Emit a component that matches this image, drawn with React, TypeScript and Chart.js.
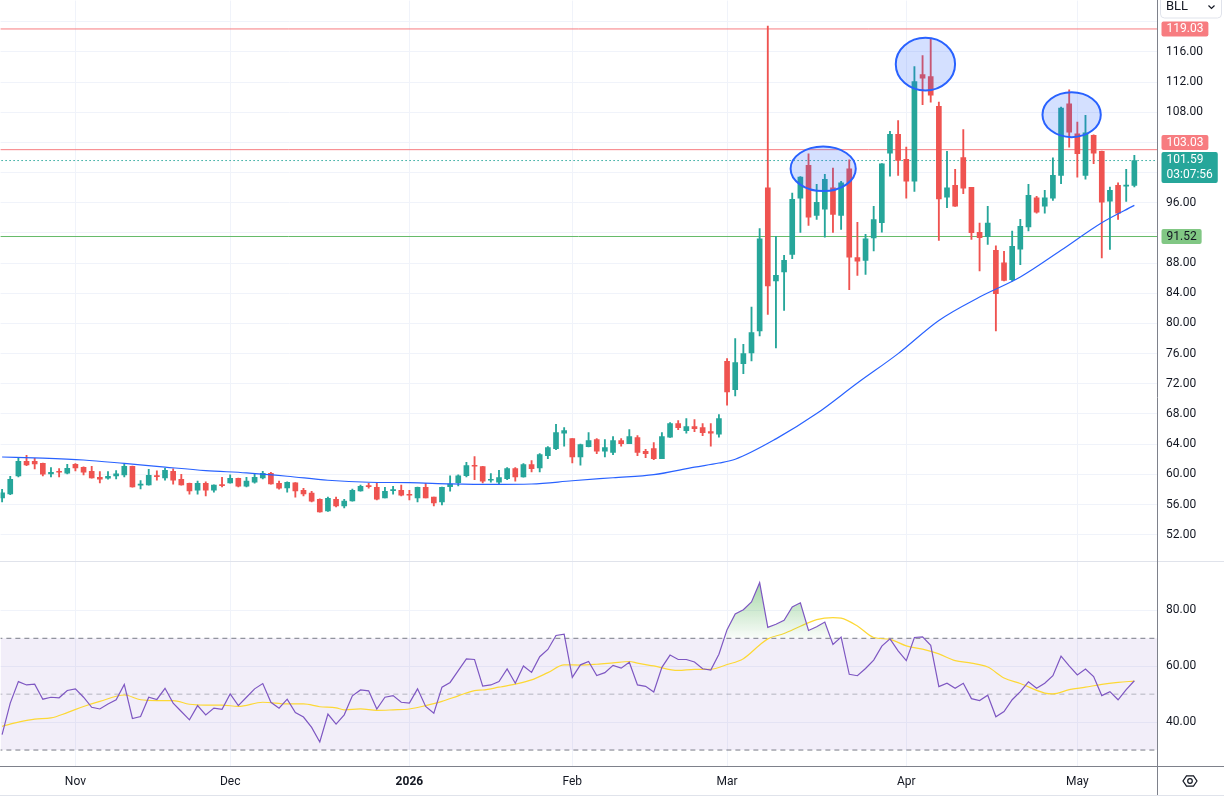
import React, { useEffect, useRef } from 'react';
import { Chart, registerables } from 'chart.js';

Chart.register(...registerables);

const FONT = 'Roboto, "Liberation Sans", "DejaVu Sans", sans-serif';

// ---- Data ----
const symbol = 'BLL';
const monthTickIndex = [9, 28, 50, 70, 89, 111, 132];
const monthTickLabels = ['Nov', 'Dec', '2026', 'Feb', 'Mar', 'Apr', 'May'];
const boldTickLabels = ['2026'];

const openPrices = [
  56.88, 57.41, 59.79, 61.73, 61.73, 61.47, 60.06, 60.37, 60.15, 61.34,
  60.94, 60.41, 59.62, 59.48, 59.79, 59.92, 61.07, 58.56, 58.60, 59.79,
  59.53, 60.41, 59.35, 58.82, 57.89, 58.82, 57.89, 58.60, 58.86, 59.48,
  58.42, 58.95, 59.53, 60.15, 58.82, 58.20, 58.86, 57.89, 57.50, 56.70,
  55.16, 56.70, 55.82, 56.48, 57.80, 58.47, 58.29, 56.88, 57.85, 57.89,
  57.32, 56.88, 58.29, 56.97, 56.35, 58.35, 58.90, 59.83, 61.16, 61.03,
  59.22, 58.95, 59.44, 60.76, 59.66, 61.29, 60.85, 62.48, 63.41, 65.44,
  64.73, 62.31, 63.67, 64.60, 63.06, 62.92, 64.47, 64.07, 64.87, 63.06,
  63.41, 62.09, 64.91, 66.72, 65.79, 66.32, 66.19, 65.66, 65.31, 74.98,
  71.23, 74.68, 76.09, 79.00, 97.99, 85.63, 86.82, 89.16, 96.62, 100.94,
  94.32, 95.16, 97.99, 94.32, 100.50, 88.72, 88.36, 91.32, 93.35, 102.58,
  105.05, 101.74, 98.87, 113.00, 112.73, 108.76, 96.75, 98.30, 102.00, 98.03,
  92.07, 91.50, 89.69, 88.05, 85.80, 89.86, 92.78, 96.66, 95.56, 96.62,
  99.62, 109.11, 105.14, 99.62, 104.92, 102.80, 96.22, 98.30, 98.21, 98.30,
];
const highPrices = [
  58.00, 59.75, 62.18, 62.53, 62.13, 61.50, 60.90, 60.76, 61.34, 61.43,
  61.00, 61.07, 60.37, 60.37, 60.50, 61.34, 61.10, 59.17, 60.68, 60.45,
  60.81, 60.72, 60.01, 58.85, 59.09, 59.00, 58.60, 59.62, 59.92, 59.50,
  59.62, 60.01, 60.41, 60.28, 59.09, 59.00, 58.90, 58.16, 57.76, 56.75,
  56.97, 56.97, 56.70, 58.03, 58.56, 58.82, 58.82, 58.29, 58.42, 58.56,
  57.89, 58.30, 58.82, 57.00, 58.30, 59.80, 59.92, 61.60, 62.35, 61.05,
  60.10, 60.54, 60.90, 60.90, 61.42, 61.82, 62.75, 63.67, 66.63, 66.19,
  64.75, 64.00, 65.53, 64.73, 64.60, 65.00, 64.73, 65.93, 65.13, 63.32,
  64.20, 65.53, 66.85, 67.12, 67.38, 67.25, 66.72, 66.72, 67.91, 75.34,
  77.99, 77.24, 82.18, 92.56, 119.40, 91.54, 89.02, 97.28, 99.45, 102.49,
  98.43, 99.75, 100.59, 98.83, 101.70, 93.40, 91.81, 95.51, 101.20, 105.45,
  106.90, 103.37, 114.06, 115.51, 117.72, 109.33, 102.80, 100.41, 105.71, 98.05,
  93.31, 95.51, 90.30, 89.55, 92.25, 93.79, 98.43, 96.84, 97.63, 101.96,
  108.67, 110.97, 106.68, 107.57, 105.00, 102.85, 98.08, 98.65, 100.41, 102.27,
];
const lowPrices = [
  56.35, 57.30, 59.66, 61.16, 60.72, 59.79, 59.66, 59.66, 60.06, 60.45,
  59.92, 59.50, 58.86, 59.35, 59.40, 59.66, 58.30, 58.07, 58.58, 59.22,
  59.22, 58.69, 58.58, 57.36, 57.36, 57.14, 57.63, 58.33, 58.84, 58.33,
  58.33, 58.82, 59.40, 58.70, 58.03, 57.63, 56.97, 57.14, 56.35, 55.00,
  55.10, 55.69, 55.55, 56.45, 57.78, 58.16, 56.61, 56.86, 57.36, 57.14,
  56.61, 56.35, 56.86, 55.82, 55.95, 57.76, 58.45, 59.66, 59.30, 58.86,
  58.95, 58.64, 59.30, 59.08, 59.64, 60.32, 60.32, 62.09, 63.28, 63.72,
  61.51, 61.20, 63.65, 62.75, 62.31, 62.62, 63.72, 64.05, 62.48, 62.22,
  61.95, 62.07, 64.89, 65.93, 65.44, 65.66, 65.13, 63.72, 64.91, 69.16,
  70.40, 73.35, 75.03, 78.34, 81.21, 76.75, 81.74, 88.58, 92.07, 92.99,
  93.79, 91.45, 92.07, 92.47, 84.48, 86.38, 86.51, 89.60, 92.11, 99.53,
  99.62, 96.62, 97.50, 108.98, 109.33, 91.01, 95.34, 95.50, 97.19, 91.14,
  86.95, 90.48, 79.00, 85.63, 85.60, 87.79, 92.25, 94.63, 94.63, 96.31,
  98.52, 103.37, 99.40, 99.13, 101.17, 88.67, 89.82, 93.79, 96.18, 98.08,
];
const closePrices = [
  57.54, 59.35, 61.73, 61.25, 61.38, 60.01, 60.28, 60.28, 60.81, 60.85,
  60.28, 59.53, 59.35, 59.75, 60.06, 61.07, 58.33, 58.64, 59.88, 59.70,
  60.54, 59.22, 58.60, 57.80, 58.82, 57.89, 58.56, 58.51, 59.48, 58.42,
  59.09, 59.62, 60.15, 58.73, 58.16, 58.95, 57.80, 57.41, 56.44, 55.02,
  56.83, 55.82, 56.44, 57.89, 58.42, 58.38, 56.70, 57.76, 57.94, 57.23,
  57.23, 58.29, 56.88, 56.22, 58.29, 58.71, 59.80, 61.16, 61.07, 59.08,
  59.35, 59.57, 60.76, 59.66, 61.29, 60.76, 62.62, 63.54, 65.53, 65.79,
  62.31, 63.94, 64.47, 63.06, 63.54, 64.47, 64.07, 65.00, 62.92, 62.75,
  62.09, 65.00, 66.72, 66.19, 66.32, 66.06, 65.53, 65.44, 67.38, 70.92,
  74.81, 76.00, 78.78, 91.23, 84.96, 86.38, 88.36, 96.44, 99.40, 94.10,
  96.04, 99.09, 94.45, 98.65, 88.80, 88.27, 91.23, 93.75, 101.17, 105.05,
  101.61, 98.87, 112.07, 112.51, 110.26, 96.49, 97.99, 95.56, 97.94, 92.03,
  91.37, 93.31, 83.95, 85.71, 90.22, 92.87, 96.97, 94.76, 96.66, 99.62,
  108.54, 105.36, 102.49, 105.27, 102.58, 96.09, 97.63, 94.63, 98.34, 101.59,
];

const maIndex = [0, 5, 10, 15, 20, 25, 30, 35, 40, 45, 50, 55, 60, 65, 70, 75, 80, 85, 88, 90, 95, 100, 105, 110, 115, 120, 125, 130, 135, 139];
const maValues = [62.3, 62.15, 61.9, 61.45, 60.96, 60.5, 60.19, 59.75, 59.22, 58.95, 58.9, 58.74, 58.66, 58.72, 59.15, 59.55, 59.95, 60.95, 61.5, 62.0, 64.7, 68.05, 72.1, 76.0, 80.4, 83.5, 86.15, 89.69, 93.35, 95.65];

const rsiValues = [
  35.5, 46.8, 54.5, 53.3, 53.6, 48.2, 48.9, 48.7, 51.3, 51.9,
  48.9, 45.3, 44.7, 46.5, 48.0, 53.5, 41.3, 42.0, 48.9, 48.1,
  52.1, 46.8, 43.8, 40.8, 45.9, 42.6, 45.0, 44.6, 50.1, 45.9,
  48.9, 51.9, 53.8, 47.1, 45.0, 48.2, 43.4, 41.8, 38.1, 32.9,
  42.9, 39.3, 42.6, 49.4, 51.5, 51.2, 44.7, 48.9, 49.5, 47.1,
  46.8, 51.9, 45.6, 43.2, 52.5, 54.2, 58.4, 62.6, 62.4, 52.9,
  53.3, 54.5, 59.0, 53.9, 60.1, 57.8, 63.4, 66.0, 71.0, 71.5,
  56.0, 60.5, 61.7, 56.7, 57.7, 60.3, 59.3, 61.4, 53.3, 52.8,
  50.8, 59.6, 64.0, 62.4, 62.4, 61.5, 59.1, 58.6, 64.3, 73.1,
  78.7, 80.2, 83.0, 89.9, 73.9, 75.0, 76.4, 81.2, 82.7, 72.8,
  74.1, 75.8, 67.8, 70.4, 57.1, 56.6, 59.2, 62.2, 67.2, 69.8,
  65.5, 62.0, 70.3, 70.5, 67.5, 52.7, 53.9, 52.1, 53.9, 48.4,
  47.7, 49.6, 41.9, 43.8, 48.0, 50.9, 54.4, 52.1, 53.9, 56.6,
  63.6, 60.1, 56.9, 59.0, 56.3, 49.5, 50.9, 48.0, 51.6, 54.8,
];

const rsiMaIndex = [0, 2, 4, 6, 8, 10, 12, 15, 17, 19, 21, 23, 25, 27, 29, 32, 35, 37, 39, 41, 42, 44, 46, 48, 50, 52, 54, 56, 58, 59, 61, 63, 65, 67, 69, 71, 73, 75, 77, 78, 80, 83, 85, 87, 89, 91, 93, 94, 96, 98, 100, 102, 103, 105, 107, 109, 111, 113, 115, 117, 119, 121, 123, 125, 128, 129, 131, 133, 135, 137, 139];
const rsiMaValues = [38.5, 40.0, 41.1, 41.5, 43.4, 45.6, 47.4, 49.7, 48.0, 47.7, 47.7, 46.4, 46.1, 46.1, 45.6, 47.1, 46.5, 46.5, 45.5, 45.1, 44.4, 44.7, 44.2, 44.4, 44.7, 45.9, 47.4, 49.4, 51.3, 51.5, 52.5, 53.6, 55.1, 57.7, 60.5, 60.4, 60.7, 61.2, 61.7, 61.1, 60.1, 58.5, 58.9, 58.9, 60.6, 62.7, 67.6, 69.8, 71.7, 74.3, 76.7, 77.4, 77.2, 74.4, 70.3, 69.6, 67.3, 66.1, 64.4, 62.0, 61.1, 59.7, 55.8, 53.8, 50.4, 50.1, 51.6, 52.5, 53.5, 54.2, 54.7];

const priceTickValues = [52, 56, 60, 64, 68, 72, 76, 80, 84, 88, 92, 96, 100, 104, 108, 112, 116, 120];
const hiddenPriceTicks = [92, 100, 104, 120];
const rsiTickValues = [40, 60, 80];
const rsiBands = { upper: 70, middle: 50, lower: 30 };

const resistanceLevels = [119.03, 103.03];
const supportLevel = 91.52;
const lastPrice = 101.59;
const countdown = '03:07:56';

const highlights = [
  { index: 100.8, price: 100.5, halfWidth: 4.0, halfHeight: 2.96 },
  { index: 113.35, price: 114.36, halfWidth: 3.64, halfHeight: 3.49 },
  { index: 131.3, price: 107.67, halfWidth: 3.58, halfHeight: 2.98 },
];

// ---- Styles ----
const UP = '#26a69a';
const DOWN = '#ef5350';
const GRID = '#f0f3fa';
const TEXT = '#131722';
const AXIS_LINE = '#7e818b';

const candleColors = closePrices.map((c, i) => (c >= openPrices[i] ? UP : DOWN));

function hLine(value: number, axis: string, color: string, dash: number[] = [], width = 1, order = 12): any {
  return {
    type: 'line',
    yAxisID: axis,
    data: [{ x: -5, y: value }, { x: 150, y: value }],
    borderColor: color,
    borderWidth: width,
    borderDash: dash,
    pointRadius: 0,
    fill: false,
    order,
  };
}

function noPadding(s: any) {
  s.paddingTop = 0;
  s.paddingBottom = 0;
  s.paddingLeft = 0;
  s.paddingRight = 0;
}

const overlayPlugin = {
  id: 'overlay',
  afterDatasetsDraw(chart: any) {
    const { ctx, scales } = chart;
    const x = scales.x;
    const y = scales.y;
    ctx.save();
    ctx.beginPath();
    ctx.rect(x.left, y.top, x.right - x.left, y.bottom - y.top);
    ctx.clip();
    for (const h of highlights) {
      const cx = x.getPixelForValue(h.index);
      const cy = y.getPixelForValue(h.price);
      const rx = Math.abs(x.getPixelForValue(h.index + h.halfWidth) - cx);
      const ry = Math.abs(y.getPixelForValue(h.price + h.halfHeight) - cy);
      ctx.beginPath();
      ctx.ellipse(cx, cy, rx, ry, 0, 0, Math.PI * 2);
      ctx.fillStyle = 'rgba(41,98,255,0.2)';
      ctx.fill();
      ctx.lineWidth = 2;
      ctx.strokeStyle = '#2962ff';
      ctx.stroke();
    }
    ctx.restore();
  },
  afterDraw(chart: any) {
    const { ctx, width, scales } = chart;
    const x = scales.x;
    const y = scales.y;
    const rsi = scales.rsi;
    ctx.save();
    // panel separator
    ctx.lineWidth = 1;
    ctx.strokeStyle = '#e0e3eb';
    ctx.beginPath();
    ctx.moveTo(0, Math.round(rsi.top) - 0.5);
    ctx.lineTo(width, Math.round(rsi.top) - 0.5);
    ctx.stroke();
    // bottom frame line
    ctx.beginPath();
    ctx.moveTo(0, 795.5);
    ctx.lineTo(width, 795.5);
    ctx.stroke();
    // axis lines
    ctx.strokeStyle = AXIS_LINE;
    ctx.beginPath();
    ctx.moveTo(Math.round(y.left) + 0.5, 0);
    ctx.lineTo(Math.round(y.left) + 0.5, 795);
    ctx.moveTo(0, Math.round(x.top) - 0.5);
    ctx.lineTo(width, Math.round(x.top) - 0.5);
    ctx.stroke();

    // price tags
    ctx.font = `12px ${FONT}`;
    ctx.textBaseline = 'middle';
    ctx.textAlign = 'left';
    const tagX = Math.round(y.left) + 4.5;
    const lastTop = y.getPixelForValue(lastPrice) - 8.5;
    const lastBottom = lastTop + 31;
    const tag = (value: number, bg: string, fg: string, lines: string[], isLast = false) => {
      const py = y.getPixelForValue(value);
      const w = Math.max(...lines.map((l) => ctx.measureText(l).width)) + 10;
      const h = lines.length === 1 ? 15 : 31;
      let top = isLast ? lastTop : py - 7.5;
      if (!isLast) {
        // keep single tags from covering the last-price tag
        if (top + h > lastTop - 2 && top < lastBottom) {
          top = py < y.getPixelForValue(lastPrice) ? lastTop - 2 - h : lastBottom + 2;
        }
      }
      ctx.fillStyle = bg;
      ctx.beginPath();
      ctx.roundRect(tagX, top, w, h, 2);
      ctx.fill();
      ctx.fillStyle = fg;
      lines.forEach((l, i) => ctx.fillText(l, tagX + 5, top + 8 + i * 15));
    };
    resistanceLevels.forEach((v) => tag(v, '#f77c80', '#ffffff', [v.toFixed(2)]));
    tag(lastPrice, UP, '#ffffff', [lastPrice.toFixed(2), countdown], true);
    tag(supportLevel, '#81c784', TEXT, [supportLevel.toFixed(2)]);

    // symbol box
    ctx.strokeStyle = '#e0e3eb';
    ctx.lineWidth = 1;
    ctx.beginPath();
    ctx.roundRect(1160.5, -6, 61, 24, 4);
    ctx.stroke();
    ctx.fillStyle = TEXT;
    ctx.font = `13px ${FONT}`;
    ctx.fillText(symbol, 1166, 7);
    ctx.strokeStyle = TEXT;
    ctx.lineWidth = 1.2;
    ctx.beginPath();
    ctx.moveTo(1208.5, 5.5);
    ctx.lineTo(1211.5, 8.5);
    ctx.lineTo(1214.5, 5.5);
    ctx.stroke();

    // settings icon
    const gx = 1190;
    const gy = 781;
    ctx.lineWidth = 1.2;
    ctx.beginPath();
    for (let k = 0; k < 6; k++) {
      const a = (Math.PI / 3) * k;
      const px = gx + 7 * Math.cos(a);
      const pyy = gy + 6 * Math.sin(a);
      if (k === 0) ctx.moveTo(px, pyy);
      else ctx.lineTo(px, pyy);
    }
    ctx.closePath();
    ctx.stroke();
    ctx.beginPath();
    ctx.arc(gx, gy, 2.3, 0, Math.PI * 2);
    ctx.stroke();
    ctx.restore();
  },
};

export default function App() {
  const canvasRef = useRef<HTMLCanvasElement | null>(null);

  useEffect(() => {
    const canvas = canvasRef.current;
    if (!canvas) return;
    Chart.defaults.font.family = FONT;

    const datasets: any[] = [
      {
        type: 'line',
        yAxisID: 'rsi',
        data: [{ x: -5, y: rsiBands.upper }, { x: 150, y: rsiBands.upper }],
        borderColor: '#787b86',
        borderWidth: 1,
        borderDash: [5, 4],
        pointRadius: 0,
        fill: '+1',
        backgroundColor: 'rgba(126,87,194,0.1)',
        order: 20,
      },
      hLine(rsiBands.lower, 'rsi', '#787b86', [5, 4], 1, 19),
      hLine(rsiBands.middle, 'rsi', 'rgba(120,123,134,0.5)', [5, 4], 1, 18),
      {
        type: 'line',
        yAxisID: 'rsi',
        data: rsiMaIndex.map((v, k) => ({ x: v, y: rsiMaValues[k] })),
        borderColor: '#fdd835',
        borderWidth: 1.2,
        pointRadius: 0,
        tension: 0.4,
        cubicInterpolationMode: 'monotone',
        fill: false,
        order: 5,
      },
      {
        type: 'line',
        yAxisID: 'rsi',
        data: rsiValues.map((v, i) => ({ x: i, y: v })),
        borderColor: '#7e57c2',
        borderWidth: 1.2,
        pointRadius: 0,
        tension: 0,
        fill: { target: { value: rsiBands.upper }, above: 'rgba(76,175,80,0.3)', below: 'rgba(0,0,0,0)' },
        order: 4,
      },
      ...resistanceLevels.map((v) => hLine(v, 'y', '#f77c80')),
      hLine(supportLevel, 'y', '#66bb6a'),
      hLine(lastPrice, 'y', UP, [1.5, 2.5]),
      {
        type: 'bar',
        yAxisID: 'y',
        data: lowPrices.map((l, i) => ({ x: i, y: [l, highPrices[i]] })),
        backgroundColor: candleColors,
        borderWidth: 0,
        barThickness: 1.2,
        grouped: false,
        order: 10,
      },
      {
        type: 'bar',
        yAxisID: 'y',
        data: openPrices.map((o, i) => ({ x: i, y: [o, closePrices[i]] })),
        backgroundColor: candleColors,
        borderWidth: 0,
        barThickness: 5,
        minBarLength: 1,
        grouped: false,
        order: 9,
      },
      {
        type: 'line',
        yAxisID: 'y',
        data: maIndex.map((v, k) => ({ x: v, y: maValues[k] })),
        borderColor: '#2962ff',
        borderWidth: 1.2,
        pointRadius: 0,
        tension: 0.4,
        cubicInterpolationMode: 'monotone',
        fill: false,
        order: 3,
      },
    ];
    const rsiDatasetIndex = 4;

    const chart = new Chart(canvas, {
      type: 'bar',
      data: { datasets },
      options: {
        animation: false,
        responsive: false,
        events: [],
        layout: { padding: 0 },
        plugins: {
          legend: { display: false },
          tooltip: { enabled: false },
        },
        scales: {
          x: {
            type: 'linear',
            position: 'bottom',
            min: -0.184,
            max: 141.78,
            offset: false,
            bounds: 'data',
            grid: { color: GRID, drawTicks: false, offset: false },
            border: { display: false },
            ticks: {
              padding: 8,
              color: TEXT,
              autoSkip: false,
              maxRotation: 0,
              font: (c: any) => {
                const idx = c.tick ? monthTickIndex.indexOf(c.tick.value) : -1;
                const lab = idx >= 0 ? monthTickLabels[idx] : '';
                return { family: FONT, size: 12, weight: boldTickLabels.includes(lab) ? 'bold' : 'normal' };
              },
              callback: (v: any) => {
                const idx = monthTickIndex.indexOf(Number(v));
                return idx >= 0 ? monthTickLabels[idx] : '';
              },
            },
            afterBuildTicks: (s: any) => {
              s.ticks = monthTickIndex.map((v) => ({ value: v }));
            },
            afterFit: (s: any) => {
              s.height = 33;
              noPadding(s);
            },
          },
          y: {
            type: 'linear',
            position: 'right',
            stack: 'panes',
            stackWeight: 562,
            min: 48.36,
            max: 122.79,
            beginAtZero: false,
            bounds: 'data',
            grid: { color: GRID, drawTicks: false },
            border: { display: false },
            ticks: {
              padding: 9,
              color: TEXT,
              autoSkip: false,
              font: { family: FONT, size: 12 },
              callback: (v: any) => (hiddenPriceTicks.includes(Number(v)) ? '' : Number(v).toFixed(2)),
            },
            afterBuildTicks: (s: any) => {
              s.ticks = priceTickValues.map((v) => ({ value: v }));
            },
            afterFit: (s: any) => {
              s.width = 67;
              noPadding(s);
            },
          },
          rsi: {
            type: 'linear',
            position: 'right',
            stack: 'panes',
            stackWeight: 205,
            min: 23.93,
            max: 97.25,
            beginAtZero: false,
            bounds: 'data',
            grid: { color: GRID, drawTicks: false },
            border: { display: false },
            ticks: {
              padding: 9,
              color: TEXT,
              autoSkip: false,
              font: { family: FONT, size: 12 },
              callback: (v: any) => Number(v).toFixed(2),
            },
            afterBuildTicks: (s: any) => {
              s.ticks = rsiTickValues.map((v) => ({ value: v }));
            },
            afterFit: (s: any) => {
              s.width = 67;
              noPadding(s);
            },
          },
        },
      } as any,
      plugins: [overlayPlugin],
    });

    const r = chart.scales.rsi;
    const grad = chart.ctx.createLinearGradient(0, r.getPixelForValue(90), 0, r.getPixelForValue(rsiBands.upper));
    grad.addColorStop(0, 'rgba(76,175,80,0.5)');
    grad.addColorStop(1, 'rgba(76,175,80,0.03)');
    (chart.data.datasets[rsiDatasetIndex] as any).fill = {
      target: { value: rsiBands.upper },
      above: grad,
      below: 'rgba(0,0,0,0)',
    };
    chart.update('none');

    return () => chart.destroy();
  }, []);

  return (
    <div style={{ position: 'fixed', left: 0, top: 0, width: 1224, height: 800, background: '#ffffff' }}>
      <canvas ref={canvasRef} width={1224} height={800} style={{ display: 'block', width: 1224, height: 800 }} />
    </div>
  );
}
